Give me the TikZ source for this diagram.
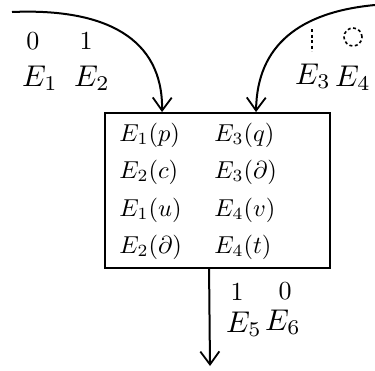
\documentclass[tikz,border=0pt]{standalone}
\usetikzlibrary{arrows.meta}
\tikzset{
  flow/.style={line width=2pt,-{Straight Barb[length=13pt,width=19pt,line width=1.8pt]}},
  evt/.style={scale=3.0,inner sep=0pt},
  val/.style={scale=2.6,inner sep=0pt},
  entry/.style={scale=2.45,inner sep=0pt,anchor=west}
}
\begin{document}
\begin{tikzpicture}[x=1pt,y=-1pt]
  \useasboundingbox (0,0) rectangle (375,370);
  \node[draw,line width=1.9pt,minimum width=225pt,minimum height=155pt] (box) at (217.5,190.5) {};
  % entries of the box
  \node[entry] (a1) at (119,135) {$E_1(p)$};
  \node[entry] (b1) at (214,135) {$E_3(q)$};
  \node[entry] (a2) at (119,172) {$E_2(c)$};
  \node[entry] (b2) at (214,172) {$E_3(\partial)$};
  \node[entry] (a3) at (119,210) {$E_1(u)$};
  \node[entry] (b3) at (214,210) {$E_4(v)$};
  \node[entry] (a4) at (119,247) {$E_2(\partial)$};
  \node[entry] (b4) at (214,247) {$E_4(t)$};
  % inputs
  \coordinate (srcL) at (12,12);
  \coordinate (srcR) at (375,5);
  \coordinate (sink) at (210,366);
  \draw[flow] (srcL) .. controls (105,8) and (163,38) .. ([xshift=58pt]box.north west);
  \draw[flow] (srcR) .. controls (300,12) and (257,45) .. ([xshift=152pt]box.north west);
  \draw[flow] ([xshift=105pt]box.south west) -- (sink);
  % labels
  \node[val] (v1) at (33,41) {$0$};
  \node[evt] (e1) at (40,78) {$E_1$};
  \node[val] (v2) at (86,41) {$1$};
  \node[evt] (e2) at (92,78) {$E_2$};
  \draw[line width=1.6pt,dash pattern=on 3pt off 2.5pt] (312,29) -- (312,51);
  \node[draw,circle,dash pattern=on 3pt off 2.5pt,line width=1.6pt,minimum size=18pt,inner sep=0pt] (v4) at (353,37) {};
  \node[evt] (e3) at (313,76) {$E_3$};
  \node[evt] (e4) at (353,78) {$E_4$};
  \node[val] (v5) at (237,292) {$1$};
  \node[evt] (e5) at (244,324) {$E_5$};
  \node[val] (v6) at (285,291) {$0$};
  \node[evt] (e6) at (283,322) {$E_6$};
\end{tikzpicture}
\end{document}
